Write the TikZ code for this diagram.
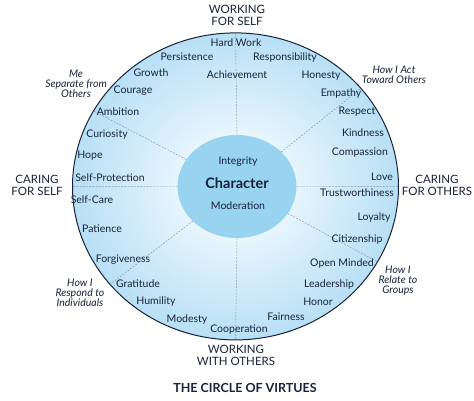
\documentclass[tikz,border=0pt]{standalone}
\usepackage{fontspec}
\setmainfont{Lato}
\usepackage{tikz}
\usetikzlibrary{shapes.geometric}
\usepackage{xcolor}
\definecolor{virtuenavy}{RGB}{24,34,58}
\definecolor{rimblue}{RGB}{110,190,234}
\definecolor{paleblue}{RGB}{234,246,253}
\definecolor{coreblue}{RGB}{152,211,240}
\definecolor{spokegray}{RGB}{130,145,160}
\pgfdeclareradialshading{virtueglow}{\pgfpoint{0bp}{0bp}}{color(0bp)=(white); color(8bp)=(paleblue); color(50bp)=(rimblue)}

\begin{document}
\begin{tikzpicture}[x=1pt, y=-1pt,
    virtue/.style={font=\fontsize{10.5}{12}\selectfont, text=virtuenavy, inner sep=0pt},
    side/.style={font=\fontsize{11.5}{12}\selectfont, text=virtuenavy, align=center, inner sep=0pt},
    aside/.style={font=\fontsize{10.5}{10}\selectfont\itshape, text=virtuenavy, align=center, inner sep=0pt},
    spoke/.style={draw=spokegray, line width=0.45pt, dash pattern=on 1.8pt off 1.4pt}
]
    \useasboundingbox (0,0) rectangle (474,401);
    % the circle and its centre
    \node[ellipse, draw=virtuenavy, line width=1pt, shading=virtueglow,
          minimum width=326pt, minimum height=307pt, inner sep=0pt] (rim) at (235.5,186.4) {};
    \node[ellipse, fill=coreblue, minimum width=119pt, minimum height=103pt, inner sep=0pt] (core) at (237,186.5) {};
    \foreach \a in {0,38,90,152,180,218,270,332}
        \draw[spoke] (core.\a) -- (rim.\a);
    \node[virtue, font=\fontsize{14.5}{16}\selectfont\bfseries] (char) at (237,183) {Character};
    \node[virtue] (integ) at (238,162) {Integrity};
    \node[virtue] (moder) at (238,206) {Moderation};
    % working for self
    \node[virtue] (hard) at (236,43) {Hard Work};
    \node[virtue] (pers) at (187,57) {Persistence};
    \node[virtue] (resp) at (285,58) {Responsibility};
    \node[virtue] (grow) at (151,73) {Growth};
    \node[virtue] (achv) at (237,75) {Achievement};
    \node[virtue] (hone) at (321,76) {Honesty};
    \node[virtue] (cour) at (133,91) {Courage};
    \node[virtue] (empa) at (341,94) {Empathy};
    \node[virtue] (ambi) at (118,112) {Ambition};
    \node[virtue] (resc) at (357,112) {Respect};
    % caring
    \node[virtue] (kind) at (363,133) {Kindness};
    \node[virtue] (curi) at (107,135) {Curiosity};
    \node[virtue] (comp) at (360,153) {Compassion};
    \node[virtue] (hope) at (90,156) {Hope};
    \node[virtue] (prot) at (110,178) {Self-Protection};
    \node[virtue] (love) at (382,177) {Love};
    \node[virtue] (trus) at (357,193) {Trustworthiness};
    \node[virtue] (care) at (92,200) {Self-Care};
    \node[virtue] (loya) at (374,218) {Loyalty};
    \node[virtue] (pati) at (102,229) {Patience};
    \node[virtue] (citi) at (357,240) {Citizenship};
    % working with others
    \node[virtue] (forg) at (123,260) {Forgiveness};
    \node[virtue] (open) at (342,264) {Open Minded};
    \node[virtue] (grat) at (138,284) {Gratitude};
    \node[virtue] (lead) at (329,285) {Leadership};
    \node[virtue] (humi) at (156,302) {Humility};
    \node[virtue] (hono) at (318,302) {Honor};
    \node[virtue] (mode) at (187,320) {Modesty};
    \node[virtue] (fair) at (286,317) {Fairness};
    \node[virtue] (coop) at (239,330) {Cooperation};
    % headings round the rim
    \node[side] (wself) at (237,15.5) {WORKING\\FOR SELF};
    \node[side] (wothers) at (236,355.5) {WORKING\\WITH OTHERS};
    \node[side] (cself) at (37,185) {CARING\\FOR SELF};
    \node[side] (cothers) at (437,185) {CARING\\FOR OTHERS};
    \node[aside] (me) at (76,84) {Me\\Separate from\\Others};
    \node[aside] (act) at (394,75) {How I Act\\Toward Others};
    \node[aside] (indiv) at (80,293) {How I\\Respond to\\Individuals};
    \node[aside] (groups) at (398,280.5) {How I\\Relate to\\Groups};
    \node[virtue, font=\fontsize{12.5}{14}\selectfont\bfseries] (title) at (245,388) {THE CIRCLE OF VIRTUES};
\end{tikzpicture}
\end{document}
